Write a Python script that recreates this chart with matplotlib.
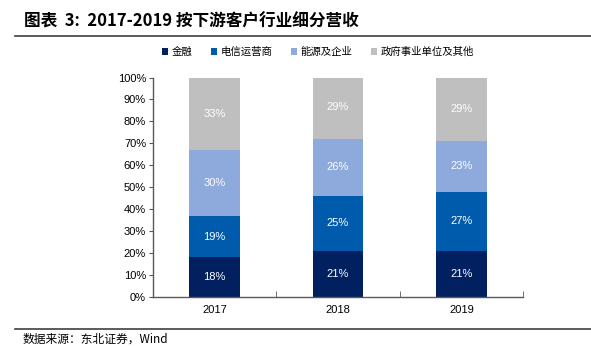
import matplotlib
matplotlib.use("Agg")
import matplotlib.pyplot as plt
import numpy as np

plt.rcParams['font.family'] = ['Noto Sans CJK SC', 'DejaVu Sans']

years = ['2017', '2018', '2019']
series = ['金融', '电信运营商', '能源及企业', '政府事业单位及其他']
finance = [18, 21, 21]
telecom = [19, 25, 27]
energy = [30, 26, 23]
government = [33, 29, 29]
colors = ['#002060', '#005BAC', '#8EA9DB', '#BFBFBF']

fig = plt.figure(figsize=(5.91, 3.46), dpi=100)
ax = fig.add_axes([153 / 591, 1 - 297 / 346, 370 / 591, 219.5 / 346])

x = np.arange(len(years))
bottom = np.zeros(len(years))
for name, vals, c in zip(series, [finance, telecom, energy, government], colors):
    vals = np.array(vals, dtype=float)
    ax.bar(x, vals, 0.41, bottom=bottom, color=c, label=name)
    for xi, b, v in zip(x, bottom, vals):
        ax.text(xi, b + v / 2, f'{int(v)}%', ha='center', va='center',
                color='white', fontsize=8, family='Liberation Sans')
    bottom += vals

ax.set_xlim(-0.5, 2.5)
ax.set_ylim(0, 100)
ax.set_yticks(range(0, 101, 10))
ax.set_yticklabels([f'{v}%' for v in range(0, 101, 10)], family='Liberation Sans', fontsize=8)
ax.set_xticks(x)
ax.set_xticklabels(years, family='Liberation Sans', fontsize=8)
ax.set_xticks([-0.5, 0.5, 1.5, 2.5], minor=True)
ax.tick_params(axis='x', which='major', length=0, pad=6)
ax.tick_params(axis='x', which='minor', length=4, direction='in', color='#595959')
ax.tick_params(axis='y', length=3, direction='out', color='#595959', pad=2)
for s in ['top', 'right']:
    ax.spines[s].set_visible(False)
for s in ['left', 'bottom']:
    ax.spines[s].set_color('#595959')
    ax.spines[s].set_linewidth(1.0)

# legend sits above the plot, a bit left of the axes centre
leg_x = (318 - 153) / 370
leg_y = (1 - 52 / 346 - (1 - 297 / 346)) / (219.5 / 346)
ax.legend(ncol=4, frameon=False, loc='center', bbox_to_anchor=(leg_x, leg_y),
          fontsize=7.5, handlelength=0.6, handleheight=0.6, handletextpad=0.3, columnspacing=1.8)

fig.text(24 / 591, 1 - 22 / 346, '图表  3:  2017-2019 按下游客户行业细分营收', fontsize=12,
         fontweight='bold', va='center', ha='left')
fig.add_artist(plt.Line2D([15 / 591, 1], [1 - 36 / 346] * 2, color='#404040', lw=1.2))
fig.add_artist(plt.Line2D([15 / 591, 1], [1 - 329 / 346] * 2, color='#404040', lw=1.2))
fig.text(23 / 591, 1 - 339 / 346, '数据来源：东北证券，Wind', fontsize=8.5, va='center', ha='left')

fig.savefig('out.png', dpi=100)
